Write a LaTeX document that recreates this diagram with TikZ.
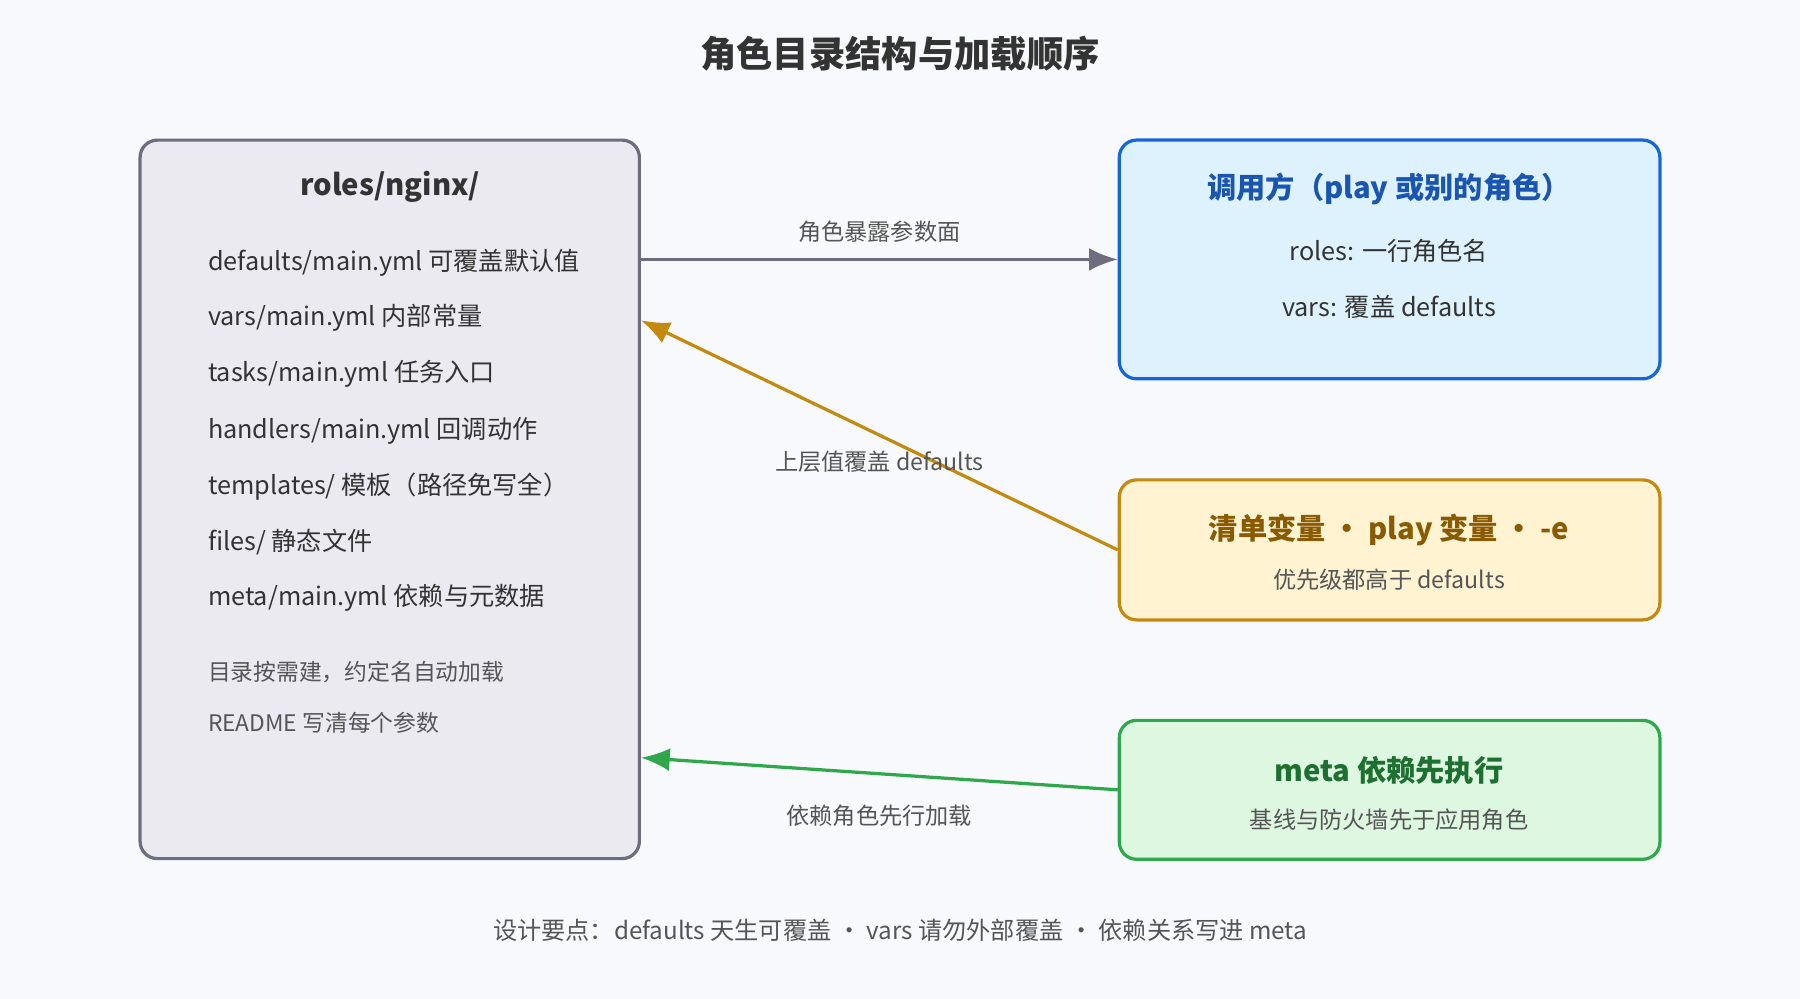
\documentclass[tikz,border=0pt]{standalone}
\usepackage{fontspec}
\setmainfont{Noto Sans CJK SC}
\usetikzlibrary{arrows.meta}
\definecolor{bg}{HTML}{F8F9FC}
\definecolor{roleline}{HTML}{6E6D80}
\definecolor{rolefill}{HTML}{EBEAF0}
\definecolor{callline}{HTML}{1766D6}
\definecolor{callfill}{HTML}{DDF2FD}
\definecolor{calltext}{HTML}{1A56B0}
\definecolor{varline}{HTML}{C48A10}
\definecolor{varfill}{HTML}{FFF3D2}
\definecolor{vartext}{HTML}{8A5A00}
\definecolor{metaline}{HTML}{2EA84A}
\definecolor{metafill}{HTML}{DDF7E0}
\definecolor{metatext}{HTML}{1E7030}
\definecolor{bodytext}{HTML}{333333}
\definecolor{softtext}{HTML}{555555}

\begin{document}
\begin{tikzpicture}[x=0.02cm,y=-0.02cm,
  box/.style={draw, rounded corners=0.3cm, line width=1.6pt, inner sep=0pt},
  item/.style={anchor=west, text=bodytext, font=\fontsize{12.5}{14}\selectfont},
  note/.style={anchor=west, text=softtext, font=\fontsize{11.3}{13}\selectfont},
  head/.style={font=\bfseries\fontsize{14.5}{17}\selectfont},
  sub/.style={text=softtext, font=\fontsize{11.5}{13}\selectfont},
  edge/.style={line width=1.6pt, -{Latex[length=0.5cm,width=0.4cm]}},
  elabel/.style={text=softtext, font=\fontsize{11.5}{13}\selectfont}]
  \fill[bg] (0,0) rectangle (1568,870);
  \useasboundingbox (0,0) rectangle (1568,870);
  \node[font=\bfseries\fontsize{18}{21}\selectfont, text=bodytext] (title) at (784,47) {角色目录结构与加载顺序};
  % left box
  \node[box, draw=roleline, fill=rolefill, minimum width=8.7cm, minimum height=12.52cm] (role) at (339.5,435) {};
  \node[head, text=bodytext] (rolehead) at (340,163) {roles/nginx/};
  \node[item] (d1) at (175,229) {defaults/main.yml 可覆盖默认值};
  \node[item] (d2) at (175,277) {vars/main.yml 内部常量};
  \node[item] (d3) at (175,326) {tasks/main.yml 任务入口};
  \node[item] (d4) at (175,375) {handlers/main.yml 回调动作};
  \node[item] (d5) at (175,424) {templates/ 模板（路径免写全）};
  \node[item] (d6) at (175,472) {files/ 静态文件};
  \node[item] (d7) at (175,521) {meta/main.yml 依赖与元数据};
  \node[note] (n1) at (175,585) {目录按需建，约定名自动加载};
  \node[note] (n2) at (175,630) {README 写清每个参数};
  % right boxes
  \node[box, draw=callline, fill=callfill, minimum width=9.42cm, minimum height=4.16cm] (call) at (1210.5,226) {};
  \node[head, text=calltext] at (1210,165) {调用方（play 或别的角色）};
  \node[item, anchor=center] at (1210,219) {roles: 一行角色名};
  \node[item, anchor=center] at (1210,267) {vars: 覆盖 defaults};
  \node[box, draw=varline, fill=varfill, minimum width=9.42cm, minimum height=2.44cm] (vars) at (1210.5,479) {};
  \node[head, text=vartext] at (1210,462) {清单变量 • play 变量 • -e};
  \node[sub] at (1210,505) {优先级都高于 defaults};
  \node[box, draw=metaline, fill=metafill, minimum width=9.42cm, minimum height=2.42cm] (meta) at (1210.5,688) {};
  \node[head, text=metatext] at (1210,671) {meta 依赖先执行};
  \node[sub] at (1210,714) {基线与防火墙先于应用角色};
  % connectors
  \draw[edge, roleline] (role.east |- 0,226) -- (call.west |- 0,226);
  \node[elabel] at (766,202) {角色暴露参数面};
  \draw[edge, varline] (vars.west) -- (role.east |- 0,279);
  \node[elabel] at (766,402) {上层值覆盖 defaults};
  \draw[edge, metaline] (meta.west) -- (role.east |- 0,660);
  \node[elabel] at (766,711) {依赖角色先行加载};
  \node[sub, font=\fontsize{12}{14}\selectfont] (foot) at (784,810) {设计要点：defaults 天生可覆盖 · vars 请勿外部覆盖 · 依赖关系写进 meta};
\end{tikzpicture}
\end{document}
